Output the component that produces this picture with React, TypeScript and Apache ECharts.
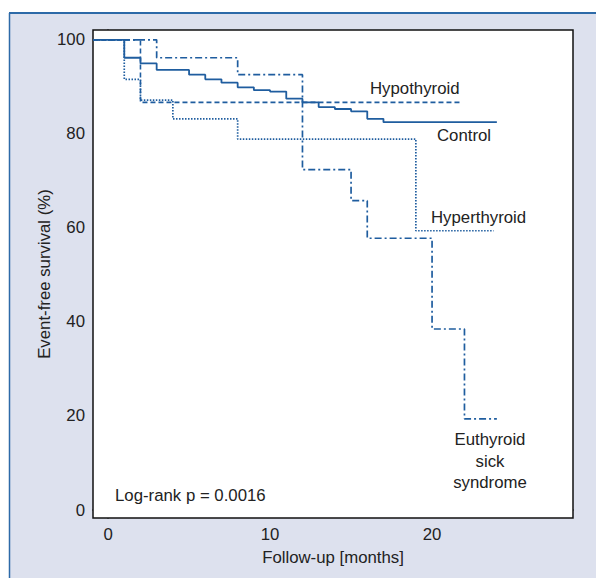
import React, { useEffect, useRef } from "react";
import * as echarts from "echarts";

const X_MIN = -0.93;
const X_MAX = 28.7;
const Y_MIN = -1.7;
const Y_MAX = 102.1;
const xTicks = [0, 10, 20];
const yTicks = [0, 20, 40, 60, 80, 100];

const controlTimes = [X_MIN, 1, 2, 3, 5, 6, 7, 8, 9, 10, 11, 12, 13, 14, 15, 16, 17, 24];
const controlSurv = [100, 96.2, 95, 93.6, 92.6, 91.6, 90.9, 89.9, 89.3, 89.0, 87.5, 86.7, 85.7, 85.3, 84.8, 83.2, 82.5, 82.5];

const hypoTimes = [X_MIN, 2, 21.8];
const hypoSurv = [100, 86.7, 86.7];

const hyperTimes = [X_MIN, 1, 2, 4, 8, 19, 23.8];
const hyperSurv = [100, 91.6, 87.2, 83.2, 78.9, 59.4, 59.4];

const euthTimes = [X_MIN, 3, 8, 12, 15, 16, 20, 22, 24];
const euthSurv = [100, 96.2, 92.6, 72.4, 65.8, 57.8, 38.5, 19.4, 19.4];

const FONT = "'Liberation Sans', Arial, sans-serif";
const FS = 16.8;
const LINE_COLOR = "#1f5d9f";
const TEXT_COLOR = "#222";

function pairs(t: number[], s: number[]) {
  return t.map((v, i) => [v, s[i]]);
}

export default function App() {
  const ref = useRef<HTMLDivElement>(null);
  useEffect(() => {
    document.body.style.margin = "0";
    const chart = echarts.init(ref.current as HTMLDivElement, null, { renderer: "svg" });
    const lineBase = { type: "line", step: "end", symbol: "none", showSymbol: false, silent: true };
    const font = `${FS}px ${FONT}`;
    chart.setOption({
      animation: false,
      backgroundColor: "#ffffff",
      textStyle: { fontFamily: FONT },
      grid: {
        left: 93,
        top: 30,
        right: 23,
        bottom: 60,
        show: true,
        backgroundColor: "#ffffff",
        borderColor: "#111",
        borderWidth: 1.5,
        z: 1,
      },
      xAxis: {
        type: "value",
        min: X_MIN,
        max: X_MAX,
        name: "Follow-up [months]",
        nameLocation: "middle",
        nameGap: 31,
        nameMoveOverlap: false,
        nameTextStyle: { fontSize: FS, color: TEXT_COLOR, fontFamily: FONT },
        axisLine: { show: true, lineStyle: { color: "#111", width: 1.5 } },
        axisTick: { show: true, length: 4, customValues: xTicks, lineStyle: { color: "#111", width: 1.2 } },
        axisLabel: { customValues: xTicks, fontSize: FS, color: TEXT_COLOR, margin: 8, fontFamily: FONT },
        splitLine: { show: false },
      },
      yAxis: {
        type: "value",
        min: Y_MIN,
        max: Y_MAX,
        name: "Event-free survival (%)",
        nameLocation: "middle",
        nameGap: 40,
        nameMoveOverlap: false,
        nameTextStyle: { fontSize: FS, color: TEXT_COLOR, fontFamily: FONT },
        axisLine: { show: true, lineStyle: { color: "#111", width: 1.5 } },
        axisTick: { show: true, length: 4, customValues: yTicks, lineStyle: { color: "#111", width: 1.2 } },
        axisLabel: { customValues: yTicks, fontSize: FS, color: TEXT_COLOR, margin: 8, fontFamily: FONT },
        splitLine: { show: false },
      },
      graphic: [
        {
          type: "rect",
          z: -10,
          silent: true,
          shape: { x: 9, y: 13, width: 700, height: 700 },
          style: { fill: "#dde1ee" },
        },
        {
          type: "line",
          z: -9,
          silent: true,
          shape: { x1: 9, y1: 13, x2: 700, y2: 13 },
          style: { stroke: "#2d6aa8", lineWidth: 2 },
        },
        {
          type: "line",
          z: -9,
          silent: true,
          shape: { x1: 9.5, y1: 13, x2: 9.5, y2: 700 },
          style: { stroke: "#2d6aa8", lineWidth: 1.5 },
        },
        {
          type: "text",
          z: 100,
          x: 370,
          y: 88,
          style: { text: "Hypothyroid", fill: TEXT_COLOR, font, verticalAlign: "middle", align: "left" },
        },
        {
          type: "text",
          z: 100,
          x: 437,
          y: 135,
          style: { text: "Control", fill: TEXT_COLOR, font, verticalAlign: "middle", align: "left" },
        },
        {
          type: "text",
          z: 100,
          x: 431,
          y: 217,
          style: { text: "Hyperthyroid", fill: TEXT_COLOR, font, verticalAlign: "middle", align: "left" },
        },
        {
          type: "text",
          z: 100,
          x: 490,
          y: 461,
          style: {
            text: "Euthyroid\nsick\nsyndrome",
            fill: TEXT_COLOR,
            font,
            lineHeight: 21.5,
            verticalAlign: "middle",
            align: "center",
          },
        },
        {
          type: "text",
          z: 100,
          x: 115,
          y: 495,
          style: { text: "Log-rank p = 0.0016", fill: TEXT_COLOR, font, verticalAlign: "middle", align: "left" },
        },
      ],
      series: [
        {
          ...lineBase,
          name: "Hyperthyroid",
          data: pairs(hyperTimes, hyperSurv),
          lineStyle: { color: LINE_COLOR, width: 1.7, type: [1.5, 1.5] },
          z: 3,
        },
        {
          ...lineBase,
          name: "Hypothyroid",
          data: pairs(hypoTimes, hypoSurv),
          lineStyle: { color: LINE_COLOR, width: 1.6, type: [5, 3] },
          z: 3,
        },
        {
          ...lineBase,
          name: "Euthyroid sick syndrome",
          data: pairs(euthTimes, euthSurv),
          lineStyle: { color: LINE_COLOR, width: 1.7, type: [7, 3, 2, 3] },
          z: 3,
        },
        {
          ...lineBase,
          name: "Control",
          data: pairs(controlTimes, controlSurv),
          lineStyle: { color: LINE_COLOR, width: 1.8, type: "solid" },
          z: 4,
        },
      ],
    });
    return () => chart.dispose();
  }, []);
  return <div ref={ref} style={{ width: 596, height: 578 }} />;
}
